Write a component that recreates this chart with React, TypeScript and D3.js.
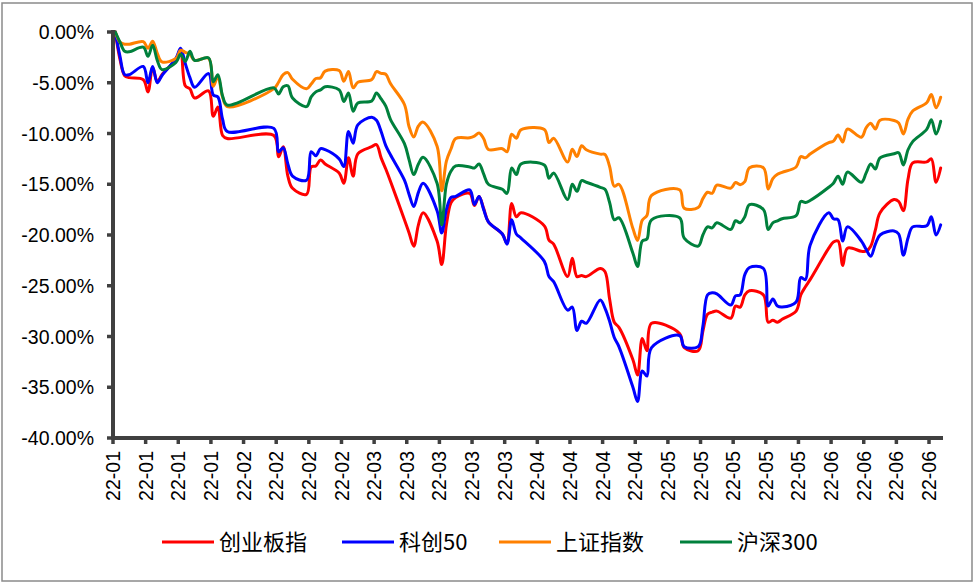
import React from 'react';
import * as d3 from 'd3';

const tradingDays: string[] = [
  '2022-01-04','2022-01-05','2022-01-06','2022-01-07','2022-01-10','2022-01-11','2022-01-12','2022-01-13','2022-01-14','2022-01-17','2022-01-18','2022-01-19','2022-01-20','2022-01-21','2022-01-24','2022-01-25','2022-01-26','2022-01-27','2022-01-28',
  '2022-02-07','2022-02-08','2022-02-09','2022-02-10','2022-02-11','2022-02-14','2022-02-15','2022-02-16','2022-02-17','2022-02-18','2022-02-21','2022-02-22','2022-02-23','2022-02-24','2022-02-25','2022-02-28',
  '2022-03-01','2022-03-02','2022-03-03','2022-03-04','2022-03-07','2022-03-08','2022-03-09','2022-03-10','2022-03-11','2022-03-14','2022-03-15','2022-03-16','2022-03-17','2022-03-18','2022-03-21','2022-03-22','2022-03-23','2022-03-24','2022-03-25','2022-03-28','2022-03-29','2022-03-30','2022-03-31',
  '2022-04-01','2022-04-06','2022-04-07','2022-04-08','2022-04-11','2022-04-12','2022-04-13','2022-04-14','2022-04-15','2022-04-18','2022-04-19','2022-04-20','2022-04-21','2022-04-22','2022-04-25','2022-04-26','2022-04-27','2022-04-28','2022-04-29',
  '2022-05-05','2022-05-06','2022-05-09','2022-05-10','2022-05-11','2022-05-12','2022-05-13','2022-05-16','2022-05-17','2022-05-18','2022-05-19','2022-05-20','2022-05-23','2022-05-24','2022-05-25','2022-05-26','2022-05-27','2022-05-30','2022-05-31',
  '2022-06-01','2022-06-02','2022-06-06','2022-06-07','2022-06-08','2022-06-09','2022-06-10','2022-06-13','2022-06-14','2022-06-15','2022-06-16','2022-06-17','2022-06-20','2022-06-21','2022-06-22','2022-06-23','2022-06-24','2022-06-27','2022-06-28','2022-06-29','2022-06-30',
];

// 创业板指 (%)
const chinext: number[] = [
  0, -2.7, -4.3, -4.5, -4.7, -5.9, -3.5, -4.9, -4.2, -2.7, -1.7, -5.3, -5.6, -6.5, -5.8, -8.3, -7.4, -10.2, -10.5,
  -10.2, -12.3, -11.3, -14.2, -15.4, -16.0, -13.3, -13.2, -12.6, -13.0, -13.9, -14.9, -12.4, -14.2, -12.0, -11.3,
  -11.1, -12.4, -13.5, -14.7, -18.5, -19.8, -21.1, -19.0, -17.8, -20.6, -22.9, -19.0, -16.8, -16.3, -15.9, -17.1, -16.2, -17.4, -18.7, -19.9, -20.8, -16.9, -18.2,
  -17.8, -19.1, -20.5, -20.9, -24.1, -22.3, -24.1, -24.0, -24.1, -23.3, -23.6, -26.3, -28.6, -29.1, -32.3, -33.8, -30.2, -31.4, -28.7,
  -29.7, -31.1, -31.4, -29.5, -27.8, -27.6, -27.5, -28.2, -27.0, -27.1, -25.9, -25.5, -25.9, -28.6, -28.4, -28.6, -28.3, -27.5, -25.9,
  -25.1, -24.4, -21.3, -20.7, -20.6, -23.0, -21.3, -21.6, -21.6, -21.1, -19.5, -17.8, -16.5, -16.7, -17.6, -14.5, -12.9, -12.8, -12.5, -14.8, -13.4,
];

// 科创50 (%)
const star50: number[] = [
  0, -2.4, -4.2, -4.2, -3.4, -5.0, -3.4, -5.0, -4.3, -2.6, -1.6, -3.1, -4.5, -5.45, -4.1, -6.2, -6.4, -8.6, -9.8,
  -9.5, -11.8, -11.4, -13.0, -14.2, -14.6, -11.8, -12.2, -11.5, -11.6, -12.5, -13.25, -9.8, -10.95, -9.15, -8.4,
  -8.7, -9.8, -11.2, -12.1, -14.6, -16.0, -17.2, -15.8, -14.9, -17.6, -19.8, -17.5, -16.3, -16.2, -15.55, -17.0, -16.2, -17.5, -18.7, -19.9, -20.9, -18.5, -19.9,
  -20.3, -22.6, -24.1, -24.6, -27.4, -27.1, -29.4, -28.5, -28.7, -26.4, -27.2, -28.5, -30.1, -31.0, -35.0, -36.4, -33.4, -33.9, -31.1,
  -29.9, -31.0, -31.0, -29.0, -25.9, -25.7, -25.8, -26.9, -26.0, -25.9, -23.9, -23.2, -23.3, -27.0, -26.3, -27.0, -27.1, -26.6, -24.2,
  -24.4, -21.0, -17.8, -18.4, -18.5, -20.6, -19.2, -20.6, -21.4, -22.1, -20.9, -20.0, -19.6, -19.9, -22.0, -20.3, -19.2, -19.1, -18.2, -20.0, -19.0,
];

// 上证指数 (%)
const sse: number[] = [
  0, -1.0, -1.2, -1.2, -0.95, -1.6, -0.9, -2.1, -2.95, -2.6, -1.8, -2.0, -2.2, -2.8, -2.6, -5.35, -4.4, -6.4, -7.35,
  -5.58, -4.95, -4.19, -4.0, -4.66, -5.6, -5.13, -4.58, -4.52, -3.85, -3.8, -4.85, -3.9, -5.5, -4.95, -4.68,
  -3.9, -4.08, -4.16, -5.08, -7.14, -9.33, -10.35, -9.26, -8.88, -11.25, -15.65, -12.72, -11.5, -10.5, -10.42, -10.26, -9.95, -10.52, -11.57, -11.5, -11.8, -10.07, -10.46,
  -9.63, -9.6, -10.89, -10.47, -12.81, -11.54, -12.27, -11.2, -11.6, -12.03, -12.07, -13.25, -15.2, -15.0, -19.37, -20.53, -18.55, -18.08, -16.1,
  -15.54, -17.36, -17.29, -16.42, -15.79, -15.89, -15.09, -15.38, -14.83, -15.04, -14.74, -13.38, -13.38, -15.46, -14.45, -14.02, -13.82, -13.3, -12.27,
  -12.39, -12.03, -10.9, -10.75, -10.15, -10.83, -9.57, -10.37, -9.45, -9.0, -9.55, -8.69, -8.72, -8.96, -10.05, -8.59, -7.78, -6.97, -6.15, -7.47, -6.43,
];

// 沪深300 (%)
const csi300: number[] = [
  0, -1.0, -1.9, -1.95, -1.5, -2.4, -1.3, -2.8, -3.7, -3.0, -2.2, -2.9, -1.9, -2.8, -2.55, -4.9, -4.2, -6.3, -7.2,
  -5.5, -6.1, -5.4, -5.3, -6.5, -7.35, -6.4, -5.9, -5.7, -5.4, -5.7, -6.85, -6.0, -7.8, -7.0, -6.8,
  -6.0, -6.6, -7.3, -8.6, -11.0, -12.6, -14.05, -13.0, -12.35, -14.9, -19.0, -15.0, -13.7, -13.2, -13.3, -13.4, -13.0, -14.0, -15.0, -15.5, -15.9, -13.4, -14.05,
  -13.0, -13.1, -14.4, -13.9, -16.5, -15.0, -15.7, -14.65, -14.8, -15.3, -15.5, -16.8, -18.5, -18.3, -21.8, -23.1, -20.6, -20.4, -18.5,
  -18.3, -20.3, -21.1, -20.0, -19.2, -19.3, -18.8, -19.45, -18.6, -18.8, -18.2, -17.0, -17.5, -19.45, -18.8, -18.6, -18.4, -18.1, -16.7,
  -16.8, -16.6, -15.3, -14.9, -14.2, -15.0, -13.8, -14.8, -13.9, -13.0, -13.5, -12.4, -12.0, -11.9, -13.1, -11.6, -10.8, -9.6, -8.65, -10.05, -8.8,
];

const seriesNames: string[] = ['创业板指', '科创50', '上证指数', '沪深300'];
const seriesColors: string[] = ['#FF0000', '#0000FF', '#FF8000', '#00803C'];
const seriesValues: number[][] = [chinext, star50, sse, csi300];

const yTickValues: number[] = [0, -5, -10, -15, -20, -25, -30, -35, -40];
const axisStart = '2022-01-04';
const axisEnd = '2022-07-01';
const tickCount = 26;

export default function App() {
  const W = 975;
  const H = 584;
  const parse = d3.utcParse('%Y-%m-%d');
  const start = parse(axisStart) as Date;
  const end = parse(axisEnd) as Date;
  const left = 113;
  const right = 943;
  const top = 32;
  const bottom = 438;

  const x = d3.scaleUtc().domain([start, end]).range([left, right]);
  const y = d3.scaleLinear().domain([0, -40]).range([top, bottom]);

  const days = tradingDays.map((s) => d3.utcHour.offset(parse(s) as Date, 12));
  const xTicks = d3.range(tickCount).map((i) => d3.utcDay.offset(start, 7 * i));
  const fmtX = d3.utcFormat('%y-%m');
  const fmtY = (v: number) => v.toFixed(2) + '%';

  const line = d3
    .line<number>()
    .x((_, i) => x(days[i]))
    .y((v) => y(v))
    .curve(d3.curveCatmullRom.alpha(0.5));

  const axisColor = '#404040';
  const labelFont = '"Liberation Sans", Arial, sans-serif';
  const legendFont = '"Noto Sans CJK SC", "Noto Sans", sans-serif';
  const legendX = [162, 342, 499, 680];
  const legendY = 542;

  return (
    <svg
      width={W}
      height={H}
      style={{ position: 'absolute', left: 0, top: 0, background: '#fff' }}
    >
      <rect x={2} y={3} width={970} height={578} fill="#fff" stroke="#8a8a8a" strokeWidth={1.5} />

      {/* series */}
      {seriesValues.map((vals, si) => (
        <path
          key={seriesNames[si]}
          d={line(vals) || ''}
          fill="none"
          stroke={seriesColors[si]}
          strokeWidth={3}
          strokeLinejoin="round"
          strokeLinecap="round"
        />
      ))}

      {/* y axis */}
      <line x1={left} x2={left} y1={top - 2} y2={bottom + 2} stroke={axisColor} strokeWidth={4} />
      {yTickValues.map((v) => (
        <g key={'y' + v}>
          <line x1={left - 6} x2={left} y1={y(v)} y2={y(v)} stroke={axisColor} strokeWidth={3.5} />
          <text
            x={94}
            y={y(v)}
            dy="0.36em"
            textAnchor="end"
            fontFamily={labelFont}
            fontSize={19.5}
            fill="#000"
          >
            {fmtY(v)}
          </text>
        </g>
      ))}

      {/* x axis */}
      <line x1={left - 2} x2={right} y1={bottom} y2={bottom} stroke={axisColor} strokeWidth={4} />
      {xTicks.map((d, i) => {
        const tx = x(d);
        return (
          <g key={'x' + i}>
            <line x1={tx} x2={tx} y1={bottom} y2={bottom + 6} stroke={axisColor} strokeWidth={3.5} />
            <text
              transform={`translate(${tx},${bottom + 13}) rotate(-90)`}
              dy="0.36em"
              textAnchor="end"
              fontFamily={labelFont}
              fontSize={19.5}
              fill="#000"
            >
              {fmtX(d)}
            </text>
          </g>
        );
      })}

      {/* legend */}
      {seriesNames.map((name, i) => (
        <g key={'lg' + i}>
          <line
            x1={legendX[i]}
            x2={legendX[i] + 52}
            y1={legendY}
            y2={legendY}
            stroke={seriesColors[i]}
            strokeWidth={3}
          />
          <text
            x={legendX[i] + 57}
            y={legendY}
            dy="0.35em"
            fontFamily={legendFont}
            fontSize={22}
            fill="#000"
          >
            {name}
          </text>
        </g>
      ))}
    </svg>
  );
}
